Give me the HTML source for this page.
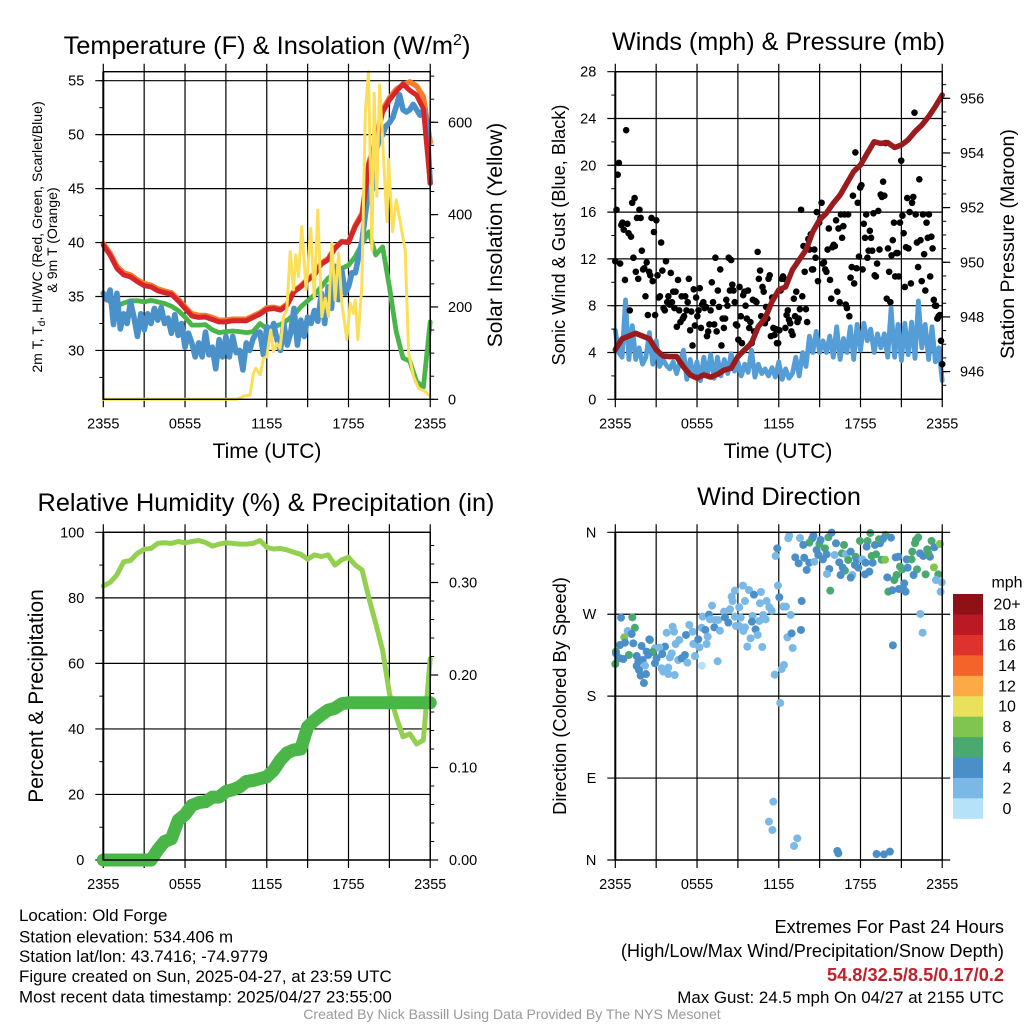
<!DOCTYPE html>
<html lang="en">
<head>
<meta charset="utf-8">
<title>Old Forge Mesonet Meteogram</title>
<style>
html,body{margin:0;padding:0;background:#fff;}
#chart{display:block;width:1024px;height:1024px;font-family:"Liberation Sans",sans-serif;fill:#000;}
</style>
</head>
<body>
<svg id="chart" xmlns="http://www.w3.org/2000/svg" width="1024" height="1024" viewBox="0 0 1024 1024">
<g id="grid-layer"></g>
<g id="series-layer"></g>
<g id="axis-layer"></g>

<text x="267" y="54" font-size="25.4" text-anchor="middle">Temperature (F) &amp; Insolation (W/m<tspan dy="-9" font-size="16">2</tspan><tspan dy="9">)</tspan></text>
<text x="778.5" y="50" font-size="25.2" text-anchor="middle">Winds (mph) &amp; Pressure (mb)</text>
<text x="266" y="511" font-size="25.3" text-anchor="middle">Relative Humidity (%) &amp; Precipitation (in)</text>
<text x="779" y="505" font-size="25.2" text-anchor="middle">Wind Direction</text>

<text x="267" y="458" font-size="21" text-anchor="middle">Time (UTC)</text>
<text x="778" y="458" font-size="21" text-anchor="middle">Time (UTC)</text>

<text transform="translate(42 237) rotate(-90)" font-size="14.1" text-anchor="middle">2m T, T<tspan dy="3" font-size="10">d</tspan><tspan dy="-3">, HI/WC (Red, Green, Scarlet/Blue)</tspan></text>
<text transform="translate(57 240) rotate(-90)" font-size="14.1" text-anchor="middle">&amp; 9m T (Orange)</text>
<text transform="translate(502 235) rotate(-90)" font-size="21" text-anchor="middle">Solar Insolation (Yellow)</text>
<text transform="translate(565 235) rotate(-90)" font-size="18.2" text-anchor="middle">Sonic Wind &amp; Gust (Blue, Black)</text>
<text transform="translate(1014 244) rotate(-90)" font-size="19.6" text-anchor="middle">Station Pressure (Maroon)</text>
<text transform="translate(43 696) rotate(-90)" font-size="21" text-anchor="middle">Percent &amp; Precipitation</text>
<text transform="translate(566 696) rotate(-90)" font-size="18.3" text-anchor="middle">Direction (Colored By Speed)</text>

<g font-size="16.9">
<text x="19" y="921">Location: Old Forge</text>
<text x="19" y="942.5">Station elevation: 534.406 m</text>
<text x="19" y="962">Station lat/lon: 43.7416; -74.9779</text>
<text x="19" y="982">Figure created on Sun, 2025-04-27, at 23:59 UTC</text>
<text x="19" y="1002.5">Most recent data timestamp: 2025/04/27 23:55:00</text>
</g>
<g font-size="18.2" text-anchor="end">
<text x="1004" y="933">Extremes For Past 24 Hours</text>
<text x="1004" y="957">(High/Low/Max Wind/Precipitation/Snow Depth)</text>
<text x="1004" y="981" font-weight="bold" fill="#c4202a">54.8/32.5/8.5/0.17/0.2</text>
<text x="1004" y="1003" font-size="16.9">Max Gust: 24.5 mph On 04/27 at 2155 UTC</text>
</g>
<text x="512" y="1019" font-size="14.05" text-anchor="middle" fill="#999">Created By Nick Bassill Using Data Provided By The NYS Mesonet</text>
</svg>

<script>
/* ---------- shared tick labels ---------- */
const timeLabels = ['2355','0555','1155','1755','2355'];
const tempTicks = [30,35,40,45,50,55];
const solarTicks = [0,200,400,600];
const windTicks = [0,4,8,12,16,20,24,28];
const pressureTicks = [946,948,950,952,954,956];
const rhTicks = [0,20,40,60,80,100];
const precipTicks = [0,0.1,0.2,0.3];
const directionTicks = [0,90,180,270,360];
const directionLabels = ['N','E','S','W','N'];

/* ---------- temperature panel, half-hour samples ---------- */
const temp2m = [39.76,38.84,37.6,37.0,36.83,36.37,36.0,35.9,35.53,35.35,35.2,34.6,33.9,33.2,33.06,33.1,32.87,32.65,32.65,32.75,32.75,32.75,33.06,33.37,33.8,33.9,33.74,34.2,35.44,35.9,36.5,37.0,38.0,38.4,39.45,40.07,40.0,41.5,42.55,47.3,49.2,52.1,53.2,54.0,54.7,54.1,53.67,52.4,45.5];
const temp9m = [39.9,39.0,37.8,37.2,37.0,36.55,36.2,36.05,35.7,35.5,35.35,34.75,34.05,33.4,33.25,33.25,33.05,32.8,32.8,32.9,32.9,32.9,33.2,33.5,33.95,34.0,33.85,34.3,35.5,36,36.6,37.1,38.1,38.5,39.5,40.1,40.05,41.6,42.7,47.4,49.4,52.3,53.4,54.2,54.6,54.9,54.5,53.5,49.3];
const heatIndex = [35.3,34.5,34.1,34.4,34.6,34.6,34.5,34.65,34.5,34.35,34.1,33.7,33.1,32.35,32.35,32.4,31.9,31.65,31.75,31.8,31.75,31.65,31.75,32.5,32.0,32.2,32.4,32.8,33.3,34.05,34.6,35.15,35.9,36.7,37.15,37.6,37.9,38.7,39.9,41,38.85,39.6,35.9,31.75,29.3,29,27.1,26.6,32.65];
/* ---------- temperature panel, quarter-hour samples ---------- */
const dewPoint = [35.3,34.7,35.6,32.4,35.3,32.0,33.4,32.5,34.5,33.1,31.3,33.4,31.9,33.4,32.5,33.9,32.8,34.0,32.5,33.0,31.6,33.3,31.4,32.5,30.3,31.6,30.7,29.4,30.7,29.4,31.7,29.6,30.3,28.3,31.0,29.4,31.3,29.4,31.3,29.8,30.0,28.2,30.7,30.0,31.1,31.6,31.7,29.6,32.2,31.3,32.5,31.0,30.0,32.5,30.5,31.6,33.9,30.5,32.8,31.3,33.1,32.5,33.7,32.7,35.3,32.5,35.9,33.9,37.8,34.7,37.5,35.3,35.9,37.2,37.2,38.7,40.2,42.7,45.2,44.9,48.3,49.5,50,50.8,51.1,51.6,52.6,53.7,52.3,52.1,52.3,52.8,52.3,51.8,52.3,51.1,45.5];
const solarHours = [0,9.8,10.29,10.78,11.02,11.19,11.51,11.76,12.0,12.29,12.49,12.74,12.98,13.23,13.47,13.72,13.96,14.13,14.33,14.57,14.89,15.23,15.48,15.75,16.04,16.29,16.53,16.78,17.02,17.27,17.51,17.88,18.12,18.37,18.49,18.69,18.98,19.23,19.47,19.72,19.89,20.08,20.28,20.45,20.82,20.94,21.23,21.5,22.16,22.41,22.78,23.14,23.63,24];
const solarValues = [0,0,7,9,56,67,53,89,92,150,103,121,110,179,193,320,237,313,266,374,237,370,222,410,179,219,179,338,215,316,208,129,208,186,215,129,244,620,710,323,663,440,681,590,385,520,363,432,323,100,49,24,17,6];

/* ---------- wind panel ---------- */
const windSpeed = [5.9,4.0,3.6,8.5,3.4,6.3,3.4,4.4,3.0,3.6,5.7,3.0,5.0,2.8,3.4,2.9,2.6,3.2,2.2,3.2,4.2,1.7,3.4,1.9,3.2,1.6,3.6,2.0,3.8,1.8,3.6,2.0,3.4,2.2,3.9,2.4,3.2,2.0,3.0,2.3,4.2,1.9,3.0,2.2,2.6,2.0,2.7,1.9,3.2,1.7,2.6,1.8,2.2,3.6,2.0,4.0,2.8,5.4,4.0,5.8,4.0,5.0,4.0,5.4,3.6,6.2,3.4,5.2,4.0,6.2,3.4,6.4,4.2,6.5,5.0,6.0,4.0,5.6,4.4,5.6,3.6,7.8,3.6,6.4,3.3,6.5,3.8,6.6,3.5,8.4,4.4,6.4,3.4,6.2,3.2,4.4,1.6];
const windGust = [11.8,16.2,19.2,20.2,11.6,14.9,15.1,14.5,10.2,23.0,15.0,14.2,7.6,13.9,16.8,12.1,17.2,10.9,15.5,10.3,16.2,15.5,12.7,11.1,11.2,8.8,11.7,7.2,10.9,10.6,15.5,10.1,14.3,7.2,15.3,10.6,8.7,8.8,13.4,11.0,7.8,7.6,11.8,8.3,8.8,8.1,10.8,8.3,9.2,7.8,9.2,6.2,10.2,7.6,6.6,8.8,6.9,7.1,8.8,7.6,8.3,10.3,5.9,7.5,4.6,9.4,6.3,8.7,7.1,7.6,9.5,6.1,8.1,8.3,7.8,7.9,5.4,5.8,6.4,7.6,10.0,8.3,6.4,12.1,5.8,9.3,7.9,11.1,4.6,6.9,6.1,6.9,8.5,8.0,12.1,9.3,11.9,9.8,9.3,8.3,6.4,6.3,5.1,9.6,7.1,4.8,8.9,9.2,8.0,6.9,9.3,6.1,6.6,4.8,8.5,5.8,8.4,8.3,12.6,10.3,11.0,7.1,9.6,9.2,6.5,7.9,6.9,10.3,10.6,5.4,8.7,6.1,5.5,6.0,4.8,4.8,5.9,9.3,10.3,10.5,10.3,6.1,7.2,7.6,6.8,6.5,5.8,5.5,8.6,7.1,9.2,6.6,6.9,7.7,16.2,8.8,13.1,10.9,7.7,6.6,13.7,12.8,14.1,11.1,11.1,12.8,12.1,16.0,10.1,15.1,15.5,16.8,11.6,11.7,11.1,10.9,12.8,14.6,10.2,8.6,13.0,13.2,13.1,15.3,9.2,14.6,8.3,15.8,13.8,14.8,15.8,8.1,7.8,15.8,7.1,10.4,11.3,17.4,9.9,21.1,11.2,16.8,12.2,18.1,18.3,11.1,15.0,13.8,15.8,12.1,12.7,14.4,13.8,12.7,15.9,10.6,10.5,11.6,16.1,12.8,17.5,17.3,18.6,17.4,21.9,8.6,12.9,10.9,8.3,12.3,13.6,15.1,10.5,12.5,12.5,10.5,15.1,20.4,15.7,14.2,9.6,13.0,17.2,12.9,16.0,9.9,16.8,17.3,24.5,15.8,13.4,11.3,18.8,13.6,10.1,15.8,12.4,9.3,15.1,13.8,15.8,10.5,13.9,12.9,8.5,8.0,8.0,6.9,7.1,7.2,5.0,3.0];
const pressure = [946.8,947.2,947.3,947.4,947.3,947.2,946.8,946.57,946.55,946.55,946.18,945.88,945.76,945.88,945.8,945.9,946.06,946.12,946.55,946.8,947.04,947.65,947.95,948.56,948.99,949.1,949.72,950.09,950.45,951.12,951.55,951.8,952.16,952.46,952.89,953.32,953.56,953.99,954.41,954.35,954.38,954.2,954.29,954.48,954.78,955.02,955.33,955.7,956.12];

/* ---------- humidity panel ---------- */
const humidity = [83.6,84.7,87,91,91.4,93.6,94.8,95.1,96.6,96.8,96.6,97.2,96.8,97.2,97.5,96.9,95.8,96.4,96.8,96.6,96.4,96.4,96.6,97.5,95.4,94.9,95.1,94.6,93.9,93.3,91.8,93.1,92.6,93.1,90,91.6,92.4,90,88.5,79.9,72.2,64,50.9,43.7,37.6,38.5,35.4,36.6,61.5];
const precipitation = [0,0,0,0,0,0,0,0,0.011,0.020,0.023,0.043,0.049,0.059,0.062,0.063,0.068,0.068,0.074,0.076,0.079,0.085,0.086,0.088,0.09,0.097,0.108,0.116,0.119,0.12,0.144,0.151,0.157,0.162,0.164,0.169,0.17,0.17,0.17,0.17,0.17,0.17,0.17,0.17,0.17,0.17,0.17,0.17,0.17];

/* ---------- wind direction panel ---------- */
const directionHours = [0.42,1.25,1.44,0.91,1.20,0.66,2.54,2.50,0.34,0.71,1.32,1.93,3.65,2.91,3.23,0.05,0.05,1.0,2.30,2.74,3.45,0.34,0.59,0,1.57,2.01,2.42,1.69,1.57,2.18,2.91,3.03,3.40,3.89,1.74,1.86,2.25,2.10,3.52,3.89,4.36,4.01,4.14,4.62,4.87,5.11,5.29,5.85,6.17,5.73,6.70,4.43,4.70,5.19,3.77,4.21,4.31,5.43,5.68,6.09,6.34,6.61,6.78,6.36,7.51,6.41,6.88,7.10,7.98,7.27,7.68,7.32,6.95,7.56,8.05,8.30,8.42,8.78,8.86,9.10,9.20,9.10,9.52,8.61,8.54,8.78,9.37,9.81,10.18,10.69,11.11,10.62,11.31,11.48,10.08,10.86,10.57,11.04,10.03,9.52,9.40,10.30,10.45,9.93,9.69,10.79,11.94,12.04,11.77,11.89,12.33,12.53,12.87,13.68,12.63,12.94,13.63,13.02,12.38,12.21,11.70,12.11,11.60,11.28,11.53,13.36,13.12,16.30,16.37,19.18,19.72,20.16,20.38,22.39,22.56,12.77,12.70,13.56,14.54,14.46,14.24,13.80,15.64,15.88,14.98,15.07,15.39,14.78,14.90,15.51,13.21,13.87,13.46,14.24,14.61,14.05,16.10,15.24,16.64,16.93,16.44,17.10,16.20,16.79,15.71,15.54,15.78,16.86,16.54,16.69,17.28,17.64,17.40,17.28,17.84,17.59,17.72,18.13,18.38,18.89,18.82,19.14,17.96,18.52,18.45,18.72,19.06,19.43,19.36,19.85,19.65,20.24,18.33,18.65,19.55,19.80,20.58,20.78,19.97,20.65,20.48,20.04,20.33,20.82,21.19,21.31,21.21,20.90,21.07,21.46,22.15,21.39,21.75,21.80,22.78,21.90,22.37,22.61,22.90,23.10,22.98,22.24,22.00,22.07,23.22,23.42,23.83,23.39,23.71,23.54,23.96,23.88];
const directionDegrees = [266.2,266.6,255.2,251.6,248.3,244.6,241.7,242.4,236.2,238.8,238,235.1,234.4,232.5,233.3,228.9,227,225.2,228.9,228.5,226.3,221.6,220.8,215.3,224.1,219.7,225.2,217.9,213.1,213.5,216.1,221.6,210.6,211.3,208.7,202.5,204.3,194.4,206.9,204.3,203.2,222.6,227,219.7,221.6,225.2,216.8,224.1,233.6,237.3,237.3,237.3,241.7,247.2,249.7,256.3,250.8,258.2,250.8,242.4,255.2,252.7,245.4,213.5,218.3,267.3,269.5,279.4,272.8,255.6,251.9,263.7,264.4,263.7,266.6,260.7,275.4,267.3,257.1,257.1,266.2,277.6,284.5,284.5,289.3,295.9,301.4,296.6,291.5,294.4,284.5,282,277.6,273.9,268.1,269.2,262.6,264.4,261.8,255.6,251.6,253.4,247.2,243.5,234.4,234,301.4,288.6,334,342.4,278.3,278.3,269.2,284.5,244.6,249,252.7,232.9,214.2,209.8,203.6,172.5,64.1,42.1,33,23.8,15.4,9.9,7.3,6.6,6.2,9.2,235.8,270.3,249.7,356.3,353.4,353.7,356.3,353.4,348.6,346.1,354.5,359.6,347.2,351.6,342.4,340.6,335.1,335.8,332.5,332.1,325.9,326.6,327.7,318.6,335.1,330.3,336.9,335.8,327,329.6,347.9,346.1,319.7,314.2,295.9,317.9,313.1,321.2,338.7,333.2,313.1,310.2,321.2,324.1,329.6,330.3,326.6,326.6,334,335.8,350.5,350.5,344.2,359.2,346.1,347.9,352.3,357,352.7,354.1,313.8,316.8,329.9,329.9,332.5,333.2,310.5,313.1,307.6,294.8,296.3,297.7,296.6,294.8,303.9,322.3,319.3,321.2,319.3,330.3,330.3,338.7,313.8,313.1,336.9,334,341.3,333.2,336.9,354.5,347.9,351.6,350.5,343.5,347.2,321.5,313.8,307.6,305,294.8];
const directionSpeeds = [5,7,7,3,5,9,7,5,5,5,5,5,5,3,3,7,5,7,5,7,5,5,5,7,5,5,5,5,5,3,5,5,3,3,5,5,5,5,3,3,3,3,3,3,5,5,3,3,3,3,3,3,3,5,3,3,3,3,3,5,3,5,3,1,3,3,5,3,3,5,3,3,3,3,5,5,3,3,3,3,3,3,3,3,3,3,3,3,5,3,3,3,3,3,3,3,3,3,5,3,3,5,3,3,3,3,3,5,3,5,3,3,3,5,3,5,5,3,3,3,3,3,3,3,3,3,3,5,5,5,5,5,5,3,3,3,3,3,5,5,7,5,7,5,7,5,7,5,5,5,5,5,5,5,3,5,3,5,7,3,5,7,5,7,5,3,7,7,5,5,5,7,3,5,5,5,5,3,5,5,7,7,7,7,5,7,5,5,7,7,5,5,5,5,7,9,5,5,5,7,7,7,5,5,5,5,5,7,7,5,7,5,7,7,7,5,5,5,7,5,7,7,7,7,7,5,9,9,7,3,3,3,3,5,3,3];
const speedBinColors = ['#b5e2f9','#7ab8e6','#4a8fc7','#49a970','#7fc550','#e9e05c','#fbaa45','#f4642a','#e0322c','#bb1a25','#8f1116'];
const speedBinLabels = ['0','2','4','6','8','10','12','14','16','18','20+'];

/* ---------- axis functions ---------- */
const NS = 'http://www.w3.org/2000/svg';
const leftX = 103.3, rightPanelX = 615.3, hourPx = 13.622, plotW = 326.9;
const topA = 71.7, botA = 399.3, topB = 532.3, botB = 860;
const hourToX1 = h => leftX + h * hourPx;
const hourToX2 = h => rightPanelX + h * hourPx;
const tempToY = t => 80.7 + (55 - t) * 10.79;
const solarToY = s => botA - s * 0.4617;
const windToY = m => botA - m * 11.7;
const pressureToY = p => 98.3 + (956 - p) * 27.33;
const rhToY = r => botB - r * 3.277;
const precipToY = p => botB - p * 925;
const dirToY = d => botB - d * 0.9103;
const uniformHour = (i, n) => i * 24 / (n - 1);

const gridLayer = document.getElementById('grid-layer');
const seriesLayer = document.getElementById('series-layer');
const axisLayer = document.getElementById('axis-layer');

function make(tag, parent, attrs) {
  const node = document.createElementNS(NS, tag);
  for (const k in attrs) node.setAttribute(k, attrs[k]);
  parent.appendChild(node);
  return node;
}
function linePath(xs, ys) {
  return xs.map((x, i) => (i ? 'L' : 'M') + x.toFixed(1) + ' ' + ys[i].toFixed(1)).join('');
}
function drawLine(values, toX, toY, color, width, name, hours) {
  const n = values.length;
  const xs = values.map((v, i) => toX(hours ? hours[i] : uniformHour(i, n)));
  const ys = values.map(toY);
  const el = make('path', seriesLayer, {d: linePath(xs, ys), fill: 'none', stroke: color, 'stroke-width': width, 'stroke-linejoin': 'round', 'stroke-linecap': 'round'});
  
  
  return el;
}
function addLabel(x, y, str, anchor) {
  const el = make('text', axisLayer, {x: x, y: y, 'font-size': 14.5, 'text-anchor': anchor});
  el.textContent = str;
  
  
}
function seg(parent, x1, y1, x2, y2, w, name) {
  const el = make('line', parent, {x1: x1, y1: y1, x2: x2, y2: y2, stroke: '#000', 'stroke-width': w});
  
  
}
/* Draw one panel's grid, frame and x-axis */
function panelFrame(x0, top, bot) {
  const x1 = x0 + plotW;
  for (let h = 0; h <= 24; h += 3) {
    const x = x0 + h * hourPx;
    seg(gridLayer, x, top - 8, x, bot + 8, 1.2, 'vertical-grid-line');
  }
  timeLabels.forEach((label, i) => addLabel(x0 + i * 6 * hourPx, bot + 29, label, 'middle'));
  const frame = make('rect', axisLayer, {x: x0, y: top, width: plotW, height: bot - top, fill: 'none', stroke: '#000', 'stroke-width': 1.4});
  
  
  seg(axisLayer, x0, top, x0, bot, 2, 'left-axis-spine');
  return x1;
}
function leftAxis(x0, x1, ticks, labels, toY, minorStep, minorFrom, minorTo, extendRight) {
  ticks.forEach((t, i) => {
    const y = toY(t);
    seg(gridLayer, x0 - 8, y, extendRight ? x1 + 8 : x1, y, 1.2, 'horizontal-grid-line');
    addLabel(x0 - 19, y + 5, labels ? labels[i] : String(t), 'end');
  });
  if (minorStep) {
    for (let v = minorFrom; v <= minorTo + 1e-6; v += minorStep) {
      seg(axisLayer, x0 - 4, toY(v), x0, toY(v), 1, 'left-minor-tick');
    }
  }
}
function rightAxis(x1, ticks, fmt, toY, minorStep, minorFrom, minorTo, labelX) {
  ticks.forEach(t => {
    const y = toY(t);
    seg(axisLayer, x1, y, x1 + 8, y, 1.2, 'right-major-tick');
    addLabel(labelX, y + 5, fmt(t), 'start');
  });
  for (let v = minorFrom; v <= minorTo + 1e-6; v += minorStep) {
    seg(axisLayer, x1, toY(v), x1 + 4, toY(v), 1, 'right-minor-tick');
  }
}

/* ---------- panel 1: temperature & insolation ---------- */
const p1r = panelFrame(leftX, topA, botA);
leftAxis(leftX, p1r, tempTicks, null, tempToY, 2.5, 27.5, 55);
rightAxis(p1r, solarTicks, String, solarToY, 50, 0, 700, 448);
drawLine(temp9m, hourToX1, tempToY, '#f47c2a', 5.4, 'temperature-9m-line');
drawLine(heatIndex, hourToX1, tempToY, '#4ab548', 4.8, 'heat-index-line');
drawLine(dewPoint, hourToX1, tempToY, '#4a90c9', 5.6, 'dew-point-line');
drawLine(temp2m, hourToX1, tempToY, '#d7262b', 5, 'temperature-2m-line');
drawLine(solarValues, hourToX1, solarToY, '#fbdf58', 3, 'solar-insolation-line', solarHours);

/* ---------- panel 2: winds & pressure ---------- */
const p2r = panelFrame(rightPanelX, topA, botA);
leftAxis(rightPanelX, p2r, windTicks, null, windToY, 2, 2, 26);
rightAxis(p2r, pressureTicks, String, pressureToY, 0.5, 945.5, 956.5, 960);
drawLine(windSpeed, hourToX2, windToY, '#559dd6', 4.8, 'sonic-wind-line');
windGust.forEach((g, i) => {
  const el = make('circle', seriesLayer, {cx: hourToX2(uniformHour(i, windGust.length)), cy: windToY(g), r: 3.3, fill: '#000'});
  
  
});
drawLine(pressure, hourToX2, pressureToY, '#991b1e', 5.5, 'station-pressure-line');

/* ---------- panel 3: humidity & precipitation ---------- */
const p3r = panelFrame(leftX, topB, botB);
leftAxis(leftX, p3r, rhTicks, null, rhToY, 20, 10, 90);
rightAxis(p3r, precipTicks, v => v.toFixed(2), precipToY, 0.02, 0, 0.34, 449);
drawLine(humidity, hourToX1, rhToY, '#93d050', 5, 'relative-humidity-line');
drawLine(precipitation, hourToX1, precipToY, '#4ab647', 13, 'precipitation-line');

/* ---------- panel 4: wind direction ---------- */
const p4r = panelFrame(rightPanelX, topB, botB);
leftAxis(rightPanelX, p4r, directionTicks, directionLabels, dirToY, 0, 0, 0, true);
directionHours.forEach((h, i) => {
  const bin = Math.min(speedBinColors.length - 1, Math.floor(directionSpeeds[i] / 2));
  const el = make('circle', seriesLayer, {cx: hourToX2(h), cy: dirToY(directionDegrees[i]), r: 4, fill: speedBinColors[bin]});
  
  
});

/* ---------- colour bar ---------- */
const legendTitle = make('text', axisLayer, {x: 1007, y: 587.5, 'font-size': 16, 'text-anchor': 'middle'});
legendTitle.textContent = 'mph';


speedBinColors.forEach((color, i) => {
  const row = speedBinColors.length - 1 - i;
  const box = make('rect', axisLayer, {x: 953, y: 594 + row * 20.42, width: 30, height: 20.6, fill: color});
  
  
  const text = make('text', axisLayer, {x: 1007, y: 609.6 + row * 20.42, 'font-size': 16, 'text-anchor': 'middle'});
  text.textContent = speedBinLabels[i];
  
  
});
</script>
</body>
</html>
